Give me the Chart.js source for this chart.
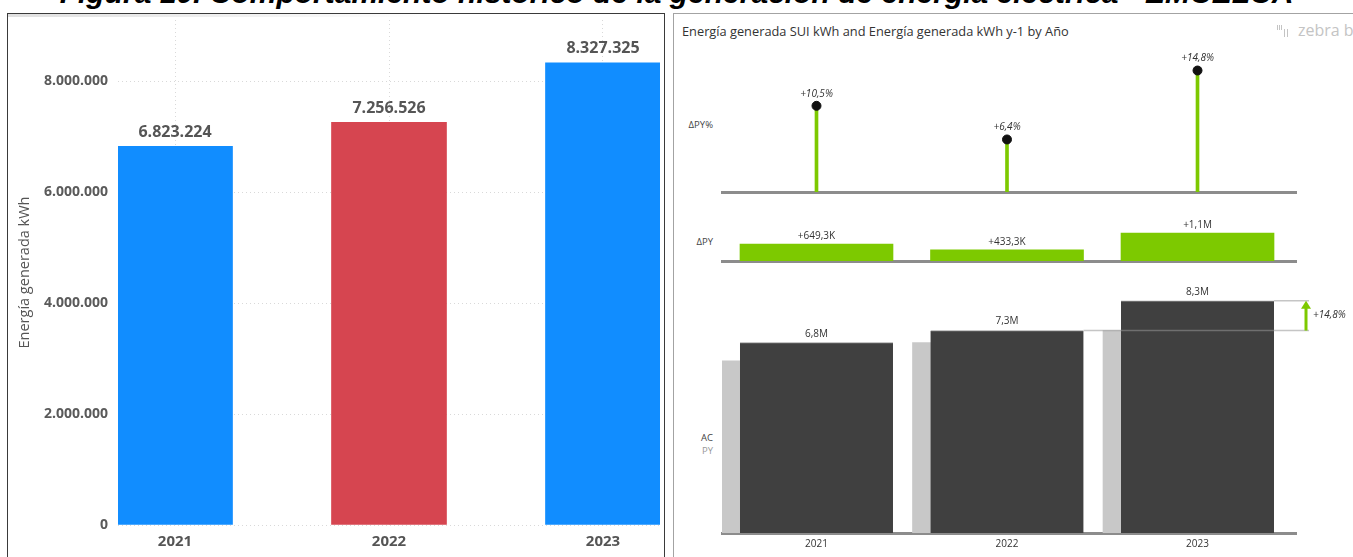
<!DOCTYPE html>
<html lang="es">
<head>
<meta charset="utf-8">
<title>Generación de energía eléctrica</title>
<script src="https://cdn.jsdelivr.net/npm/chart.js@4.4.1/dist/chart.umd.min.js"></script>
<style>
	html, body { margin: 0; padding: 0; background: #fff; }
	body { position: relative; width: 1353px; height: 557px; overflow: hidden; font-family: 'Open Sans', sans-serif; }
	.titulo { position: absolute; left: 0; top: -22px; width: 1353px; text-align: center; white-space: nowrap;
		font: italic bold 30px 'Liberation Sans', Arial, sans-serif; line-height: 30px; color: #000; }
	.panel { position: absolute; top: 13px; height: 620px; box-sizing: border-box; }
	#panelIzq { left: 7px; width: 658px; border: 1px solid #3a3a3a; }
	#panelDer { left: 673px; width: 720px; border: 1px solid #a3a3a3; }
	.sombra { position: absolute; left: 8px; top: 14px; width: 430px; height: 3px;
		background: linear-gradient(to right, rgba(0,0,0,0.12), rgba(0,0,0,0)); }
	canvas { position: absolute; }
	.subtitulo { position: absolute; left: 682px; top: 23px; font-size: 12.8px; line-height: 16px; color: #333; white-space: nowrap; }
	.marca { position: absolute; left: 1298px; top: 20px; font-size: 16px; line-height: 20px; color: #c4c4c4; white-space: nowrap; }
	.barrita { position: absolute; width: 1px; background: #c4c4c4; }
	.fila { position: absolute; right: 640px; font-size: 9.5px; line-height: 12px; color: #444; text-align: right; white-space: nowrap; }
</style>
</head>
<body>

<div class="titulo">Figura 10. Comportamiento histórico de la generación de energía eléctrica - EMCELCA</div>

<div class="panel" id="panelIzq"></div>
<div class="sombra"></div>
<canvas id="graficoEnergia" width="656" height="543" style="left:8px; top:14px;"></canvas>

<div class="panel" id="panelDer"></div>
<div class="subtitulo">Energía generada SUI kWh and Energía generada kWh y-1 by Año</div>
<div class="barrita" style="left:1277px; top:25px; height:5px;"></div>
<div class="barrita" style="left:1279px; top:25px; height:5px;"></div>
<div class="barrita" style="left:1281px; top:25px; height:5px;"></div>
<div class="barrita" style="left:1284px; top:29px; height:8px;"></div>
<div class="barrita" style="left:1287px; top:29px; height:8px;"></div>
<div class="marca">zebra bi</div>

<div class="fila" style="top:119px;">ΔPY%</div>
<div class="fila" style="top:236px;">ΔPY</div>
<div class="fila" style="top:432px;">AC</div>
<div class="fila" style="top:445px; color:#999;">PY</div>

<canvas id="graficoDeltaPct" width="679" height="160" style="left:674px; top:40px;"></canvas>
<canvas id="graficoDelta" width="679" height="62" style="left:674px; top:205px;"></canvas>
<canvas id="graficoACPY" width="679" height="292" style="left:674px; top:265px;"></canvas>

<script>
var anios = ['2021', '2022', '2023'];
var energiaAC = [6823224, 7256526, 8327325];
var energiaPY = [6173900, 6823224, 7256526];
var deltaPY = [649300, 433302, 1070799];
var deltaPYPct = [10.5, 6.4, 14.8];
var ticksEnergia = [0, 2000000, 4000000, 6000000, 8000000];

// limites del eje x (en unidades de categoria) de los graficos de la derecha
var X_MIN = -0.496;
var X_MAX = 2.517;
var DESPL_PY = 0.0945;

Chart.defaults.font.family = "'Open Sans', sans-serif";

function puntos(valores) {
	return valores.map(function(v, i) { return { x: i, y: v }; });
}

function ticksAnios(scale) {
	scale.ticks = anios.map(function(a, i) { return { value: i }; });
}

function etiquetaAnio(v) {
	return anios[v];
}

function formatoMiles(v) {
	return String(Math.round(v)).replace(/\B(?=(\d{3})+(?!\d))/g, '.');
}

function formatoCorto(v) {
	var txt = Math.abs(v) >= 1e6 ? (v / 1e6).toFixed(1) + 'M' : (v / 1e3).toFixed(1) + 'K';
	return txt.replace('.', ',');
}

function conSigno(txt, v) {
	return (v > 0 ? '+' : '') + txt;
}

function formatoPct(v) {
	return conSigno(v.toFixed(1).replace('.', ',') + '%', v);
}

// escribe un texto encima de cada barra/punto de un dataset
function etiquetasSobre(id, indiceDataset, valores, formato, fuente, color, separacion) {
	return {
		id: id,
		afterDatasetsDraw: function(chart) {
			var ctx = chart.ctx;
			ctx.save();
			ctx.font = fuente;
			ctx.fillStyle = color;
			ctx.textAlign = 'center';
			ctx.textBaseline = 'bottom';
			chart.getDatasetMeta(indiceDataset).data.forEach(function(el, i) {
				ctx.fillText(formato(valores[i]), el.x, el.y - separacion);
			});
			ctx.restore();
		}
	};
}

/* ---------- grafico de barras de la izquierda ---------- */

new Chart(document.getElementById('graficoEnergia'), {
	type: 'bar',
	data: {
		datasets: [{
			data: puntos(energiaAC),
			backgroundColor: ['#118DFF', '#D64550', '#118DFF'],
			barThickness: 115
		}]
	},
	options: {
		responsive: false,
		animation: false,
		devicePixelRatio: 1,
		layout: { padding: { top: 6, right: 4, left: 0, bottom: 0 } },
		plugins: { legend: { display: false }, tooltip: { enabled: false } },
		scales: {
			x: {
				type: 'linear',
				offset: false,
				min: -0.2664,
				max: 2.2664,
				afterBuildTicks: ticksAnios,
				afterFit: function(scale) {
					scale.height = 32;
					scale.paddingLeft = 0;
					scale.paddingRight = 0;
				},
				ticks: { callback: etiquetaAnio, color: '#555', font: { size: 15, weight: 'bold' }, padding: 8 },
				grid: { color: '#d9d9d9', drawTicks: false, offset: false },
				border: { display: false, dash: [1, 3] }
			},
			y: {
				min: 0,
				max: 9100000,
				afterBuildTicks: function(scale) {
					scale.ticks = ticksEnergia.map(function(v) { return { value: v }; });
				},
				afterFit: function(scale) {
					scale.width = 110;
					scale.paddingTop = 0;
					scale.paddingBottom = 0;
				},
				ticks: { callback: function(v) { return formatoMiles(v); }, color: '#5a5a5a', font: { size: 14, weight: 'bold' }, padding: 10 },
				grid: { color: '#d9d9d9', drawTicks: false },
				border: { display: false, dash: [1, 3] },
				title: { display: true, text: 'Energía generada kWh', color: '#555', font: { size: 14.5 }, padding: { top: 8, bottom: 0 } }
			}
		}
	},
	plugins: [etiquetasSobre('valoresEnergia', 0, energiaAC, formatoMiles, "bold 16px 'Open Sans'", '#555', 6)]
});

/* ---------- graficos de variacion (derecha) ---------- */

function opcionesDerecha(relleno, maxY, conAnios) {
	return {
		responsive: false,
		animation: false,
		devicePixelRatio: 1,
		layout: { padding: { left: 48, right: 57, top: relleno.top, bottom: relleno.bottom } },
		plugins: { legend: { display: false }, tooltip: { enabled: false } },
		scales: {
			x: {
				type: 'linear',
				offset: false,
				min: X_MIN,
				max: X_MAX,
				afterBuildTicks: ticksAnios,
				afterFit: function(scale) { scale.height = conAnios ? 24 : 0; },
				grid: { display: false, drawTicks: false, offset: false },
				border: { display: true, color: '#8c8c8c', width: 3 },
				ticks: { display: conAnios, callback: etiquetaAnio, color: '#333', font: { size: 10 }, padding: 5 }
			},
			y: { display: false, min: 0, max: maxY }
		}
	};
}

// ΔPY% : piruletas
new Chart(document.getElementById('graficoDeltaPct'), {
	type: 'bar',
	data: {
		datasets: [{
			type: 'line',
			data: puntos(deltaPYPct),
			showLine: false,
			pointRadius: 4.5,
			pointBackgroundColor: '#111',
			pointBorderColor: '#111',
			order: 0
		}, {
			data: puntos(deltaPYPct),
			backgroundColor: '#7DC900',
			barThickness: 3,
			grouped: false,
			order: 1
		}]
	},
	options: opcionesDerecha({ top: 10, bottom: 8 }, 17.3, false),
	plugins: [etiquetasSobre('valoresPct', 0, deltaPYPct, formatoPct, "italic 10px 'Open Sans'", '#333', 7)]
});

// ΔPY : barras verdes
new Chart(document.getElementById('graficoDelta'), {
	type: 'bar',
	data: {
		datasets: [{
			data: puntos(deltaPY),
			backgroundColor: '#7DC900',
			barThickness: 153,
			grouped: false
		}]
	},
	options: opcionesDerecha({ top: 4, bottom: 6 }, 2000000, false),
	plugins: [etiquetasSobre('valoresDelta', 0, deltaPY, function(v) { return conSigno(formatoCorto(v), v); }, "10px 'Open Sans'", '#333', 3)]
});

// flecha de variacion del ultimo año
var flechaVariacion = {
	id: 'flechaVariacion',
	afterDatasetsDraw: function(chart) {
		var ctx = chart.ctx;
		var barras = chart.getDatasetMeta(0).data;
		var ys = chart.scales.y;
		var n = barras.length - 1;
		var yAC = ys.getPixelForValue(energiaAC[n]);
		var yPY = ys.getPixelForValue(energiaPY[n]);
		var xBarra = barras[n].x + barras[n].width / 2;
		var xAnt = barras[n - 1].x + barras[n - 1].width / 2;
		var xFin = xBarra + 35;
		var xFlecha = xFin - 3;

		ctx.save();
		ctx.lineWidth = 1.5;
		ctx.strokeStyle = 'rgba(150,150,150,0.55)';
		ctx.beginPath();
		ctx.moveTo(xAnt, yPY);
		ctx.lineTo(xFin, yPY);
		ctx.moveTo(xBarra, yAC);
		ctx.lineTo(xFin, yAC);
		ctx.stroke();

		ctx.strokeStyle = '#7DC900';
		ctx.fillStyle = '#7DC900';
		ctx.lineWidth = 3;
		ctx.beginPath();
		ctx.moveTo(xFlecha, yPY);
		ctx.lineTo(xFlecha, yAC + 7);
		ctx.stroke();
		ctx.beginPath();
		ctx.moveTo(xFlecha - 5, yAC + 8);
		ctx.lineTo(xFlecha + 5, yAC + 8);
		ctx.lineTo(xFlecha, yAC);
		ctx.closePath();
		ctx.fill();

		ctx.fillStyle = '#333';
		ctx.font = "italic 10px 'Open Sans'";
		ctx.textAlign = 'left';
		ctx.textBaseline = 'middle';
		ctx.fillText(formatoPct(deltaPYPct[n]), xFin + 4, (yAC + yPY) / 2);
		ctx.restore();
	}
};

// AC / PY : barras superpuestas
var opcionesACPY = opcionesDerecha({ top: 3, bottom: 0 }, 9500000, true);
opcionesACPY.scales.xPY = { type: 'linear', display: false, offset: false, min: X_MIN + DESPL_PY, max: X_MAX + DESPL_PY };

new Chart(document.getElementById('graficoACPY'), {
	type: 'bar',
	data: {
		datasets: [{
			data: puntos(energiaAC),
			backgroundColor: '#404040',
			borderColor: '#9a9a9a',
			borderWidth: { top: 1, left: 0, right: 0, bottom: 0 },
			borderSkipped: 'bottom',
			barThickness: 153,
			grouped: false,
			order: 0
		}, {
			data: puntos(energiaPY),
			xAxisID: 'xPY',
			backgroundColor: '#C8C8C8',
			barThickness: 153,
			grouped: false,
			order: 1
		}]
	},
	options: opcionesACPY,
	plugins: [
		etiquetasSobre('valoresAC', 0, energiaAC, formatoCorto, "10px 'Open Sans'", '#333', 4),
		flechaVariacion
	]
});
</script>
</body>
</html>
